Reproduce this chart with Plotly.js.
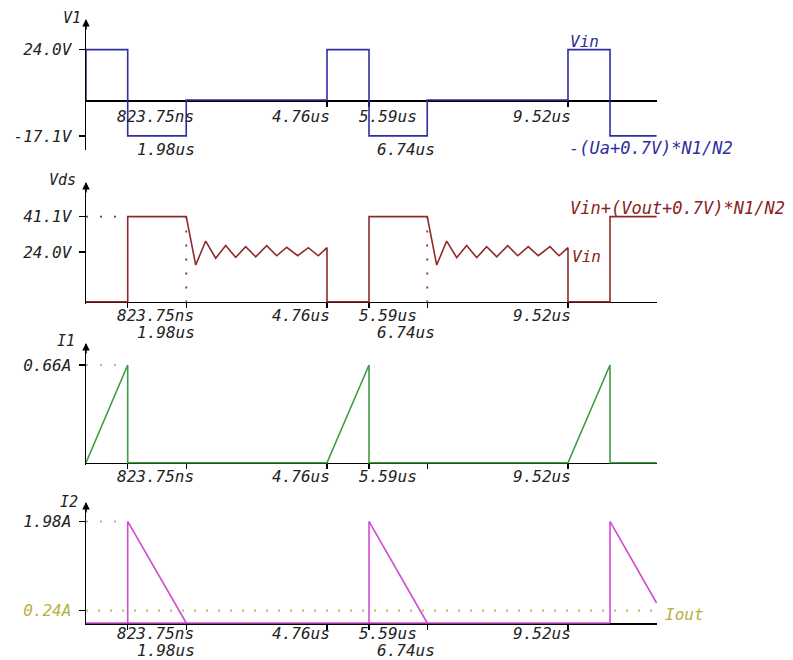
<!DOCTYPE html>
<html>
<head>
<meta charset="utf-8">
<script src="https://cdn.plot.ly/plotly-3.0.1.min.js"></script>
<style>html,body{margin:0;padding:0;background:#fff;}#chart{width:793px;height:660px;}</style>
</head>
<body>
<div id="chart"></div>
<script>
// ---------------- data ----------------
const tickTimes  = [0.82375, 1.98, 4.76, 5.59, 6.74, 9.52];
const tickLabels = ['823.75ns', '1.98us', '4.76us', '5.59us', '6.74us', '9.52us'];

const v1Time = [0, 0, 0.82375, 0.82375, 1.98, 1.98, 4.76, 4.76, 5.59, 5.59, 6.74, 6.74, 9.52, 9.52, 10.35, 10.35, 11.27];
const v1Volt = [0, 24, 24, -17.1, -17.1, 0, 0, 24, 24, -17.1, -17.1, 0, 0, 24, 24, -17.1, -17.1];

const vdsTime = [0, 0.82375, 0.82375, 1.98, 2.167, 2.364, 2.562, 2.759, 2.957, 3.154, 3.352, 3.569, 3.767, 3.964, 4.181, 4.391, 4.588, 4.76, 4.76,
                 5.59, 5.59, 6.74, 6.927, 7.124, 7.322, 7.519, 7.717, 7.914, 8.112, 8.329, 8.527, 8.736, 8.933, 9.164, 9.342, 9.52, 9.52,
                 10.35, 10.35, 11.27];
const vdsVolt = [0, 0, 41.1, 41.1, 17.7, 29.3, 21.0, 27.1, 21.4, 26.6, 21.7, 27.1, 22.2, 26.3, 22.2, 26.1, 22.2, 26.1, 0,
                 0, 41.1, 41.1, 17.7, 29.3, 21.3, 27.1, 21.3, 26.6, 21.7, 27.1, 22.2, 26.6, 22.2, 26.6, 22.2, 26.1, 0,
                 0, 41.1, 41.1];

const i1Time = [0, 0.82375, 0.82375, 4.76, 5.59, 5.59, 9.52, 10.35, 10.35, 11.27];
const i1Amp  = [0, 0.66, 0, 0, 0.66, 0, 0, 0.66, 0, 0];

const i2Time = [0, 10.35, null, 0.82375, 0.82375, 1.98, null, 5.59, 5.59, 6.74, null, 10.35, 10.35, 11.27];
const i2Amp  = [0, 0, null, 0, 1.98, 0, null, 0, 1.98, 0, null, 0, 1.98, 0.39];

const vdsPeak = 41.1, i1Peak = 0.66, i2Peak = 1.98, ioutLevel = 0.24;
const tOn = 0.82375, tOff = [1.98, 6.74];

const yTickVals = [[24, -17.1], [41.1, 24], [0.66], [1.98, 0.24]];
const yTickText = [['24.0V', '-17.1V'], ['41.1V', '24.0V'], ['0.66A'], ['1.98A', '0.24A']];
const axisNames = ['V1', 'Vds', 'I1', 'I2'];

// ---------------- styles / geometry ----------------
const W = 793, H = 660;
const XMAX = 11.278;
const BLUE = '#2e2ea0', RED = '#8e2a2a', GREEN = '#3f9b3f', MAG = '#d24bd2', OLIVE = '#b8b03c';
const FONT = 'DejaVu Sans Mono';
const panels = [
  {top: 20,  zero: 100,   bottom: 150,   scale: 2.1},
  {top: 183, zero: 301.7, bottom: 303.5, scale: 2.07},
  {top: 344, zero: 462.7, bottom: 464.5, scale: 148},
  {top: 503, zero: 623,   bottom: 625,   scale: 51.3}
];
const labelRows = [[116, 149], [315, 332], [476, null], [633, 650]];
const labelStyle = [
  {row: 0, anchor: 'left',  shift: -13},
  {row: 1, anchor: 'right', shift: 11},
  {row: 0, anchor: 'right', shift: 5},
  {row: 0, anchor: 'left',  shift: -12},
  {row: 1, anchor: 'right', shift: 10},
  {row: 0, anchor: 'right', shift: 5}
];
const nameShift = [-3, -8, -9, -6];
const nameY = [18, 180, 341, 502];
const py = p => 1 - p / H;

const layout = {
  width: W, height: H,
  margin: {l: 86, r: 136, t: 0, b: 0},
  paper_bgcolor: '#fff', plot_bgcolor: 'rgba(0,0,0,0)',
  showlegend: false,
  annotations: []
};

panels.forEach((p, i) => {
  const sfx = i === 0 ? '' : String(i + 1);
  layout['yaxis' + sfx] = {
    domain: [py(p.bottom), py(p.top)],
    range: [-(p.bottom - p.zero) / p.scale, (p.zero - p.top) / p.scale],
    anchor: 'x' + sfx,
    showline: true, linecolor: '#000', linewidth: 1.5,
    ticks: 'outside', ticklen: 6, tickwidth: 1.2, tickcolor: '#000',
    tickvals: yTickVals[i],
    ticktext: yTickText[i].map(t => (t === '0.24A' ? '<span style="color:' + OLIVE + '"><i>' + t + '</i></span>' : '<i>' + t + '</i>')),
    tickfont: {family: FONT, size: 16, color: '#222'},
    ticklabelstandoff: 4,
    showgrid: false, zeroline: false, fixedrange: true, layer: 'below traces'
  };
  layout['xaxis' + sfx] = {
    domain: [0, 1], range: [0, XMAX],
    anchor: 'free', position: py(p.zero),
    showline: true, linecolor: '#000', linewidth: 1.5,
    ticks: 'outside', ticklen: 5, tickwidth: 1.2, tickcolor: '#000',
    tickvals: tickTimes, showticklabels: false,
    showgrid: false, zeroline: false, fixedrange: true, layer: 'below traces'
  };
  layout.annotations.push({xref: 'x' + sfx, yref: 'paper', x: XMAX + 0.03, y: py(p.zero), ax: -12, ay: 0, text: '',
    showarrow: true, arrowhead: 2, arrowsize: 1, arrowwidth: 1.5, arrowcolor: '#000'});
  layout.annotations.push({xref: 'x' + sfx, yref: 'paper', x: 0, y: py(p.top - 1), ax: 0, ay: 12, text: '',
    showarrow: true, arrowhead: 2, arrowsize: 1, arrowwidth: 1.5, arrowcolor: '#000'});
  layout.annotations.push({xref: 'x' + sfx, yref: 'paper', x: 0, y: py(nameY[i]), xanchor: 'right', yanchor: 'middle',
    xshift: nameShift[i], showarrow: false, text: '<i>' + axisNames[i] + '</i>', font: {family: FONT, size: 15, color: '#222'}});
  tickTimes.forEach((t, k) => {
    const st = labelStyle[k];
    const rowY = labelRows[i][st.row];
    if (rowY == null) return;
    layout.annotations.push({xref: 'x' + sfx, yref: 'paper', x: t, y: py(rowY), xanchor: st.anchor, yanchor: 'middle',
      xshift: st.shift, showarrow: false, text: '<i>' + tickLabels[k] + '</i>', font: {family: FONT, size: 16, color: '#222'}});
  });
});

const txt = (xr, x, yPix, text, color, shift, size) => ({xref: xr, yref: 'paper', x: x, y: py(yPix), xanchor: 'left', yanchor: 'middle',
  xshift: shift, showarrow: false, text: '<i>' + text + '</i>', font: {family: FONT, size: size, color: color}});
layout.annotations.push(txt('x', 9.52, 42, 'Vin', BLUE, 0, 16));
layout.annotations.push(txt('x', 9.52, 148, '-(Ua+0.7V)*N1/N2', BLUE, -1, 17));
layout.annotations.push(txt('x2', 9.52, 208, 'Vin+(Vout+0.7V)*N1/N2', '#8a2222', 0, 17));
layout.annotations.push(txt('x2', 9.52, 256, 'Vin', '#8a2222', 2, 16));
layout.annotations.push(txt('x4', XMAX, 614, 'Iout', OLIVE, 6, 16));

const line = (w, c, d) => ({color: c, width: w, dash: d || 'solid'});
const traces = [
  {x: v1Time, y: v1Volt, xaxis: 'x', yaxis: 'y', mode: 'lines', line: line(1.6, BLUE)},
  {x: [0, tOn], y: [vdsPeak, vdsPeak], xaxis: 'x2', yaxis: 'y2', mode: 'lines', line: line(1.8, RED, '2px,12px')},
  {x: [tOff[0], tOff[0], null, tOff[1], tOff[1]], y: [vdsPeak, 0, null, vdsPeak, 0], xaxis: 'x2', yaxis: 'y2', mode: 'lines', line: line(1.8, RED, '2px,12px')},
  {x: vdsTime, y: vdsVolt, xaxis: 'x2', yaxis: 'y2', mode: 'lines', line: line(1.6, RED)},
  {x: [0, tOn], y: [i1Peak, i1Peak], xaxis: 'x3', yaxis: 'y3', mode: 'lines', line: line(1.6, '#8aa88a', '2px,12px')},
  {x: i1Time, y: i1Amp, xaxis: 'x3', yaxis: 'y3', mode: 'lines', line: line(1.6, GREEN)},
  {x: [0, tOn], y: [i2Peak, i2Peak], xaxis: 'x4', yaxis: 'y4', mode: 'lines', line: line(1.6, '#b08ab0', '2px,12px')},
  {x: [0, XMAX], y: [ioutLevel, ioutLevel], xaxis: 'x4', yaxis: 'y4', mode: 'lines', line: line(2.2, '#c8c070', '2px,10px')},
  {x: i2Time, y: i2Amp, xaxis: 'x4', yaxis: 'y4', mode: 'lines', line: line(1.6, MAG), connectgaps: false}
];
traces.forEach(t => { t.hoverinfo = 'skip'; });

Plotly.newPlot('chart', traces, layout, {displayModeBar: false, staticPlot: true});
</script>
</body>
</html>
